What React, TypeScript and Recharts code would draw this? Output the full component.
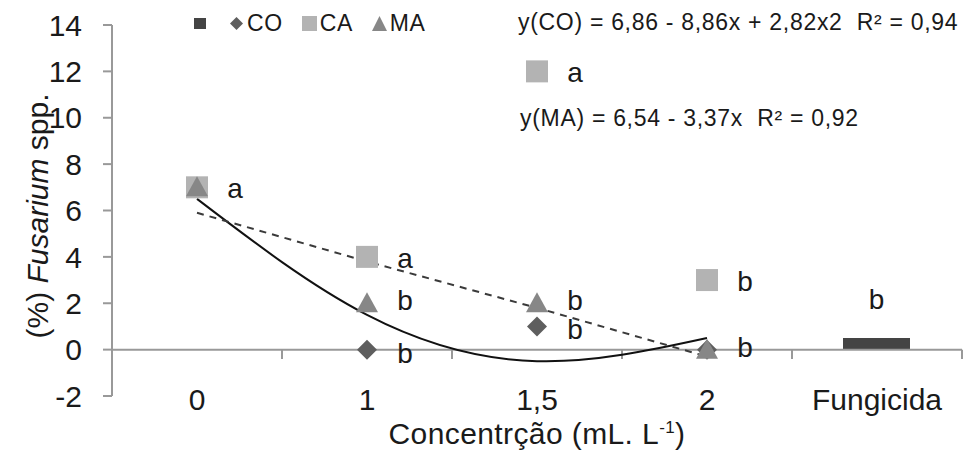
import React from "react";
import { ComposedChart, Line, Bar, XAxis, YAxis, ReferenceLine, LabelList } from "recharts";

const CATEGORIES = ["0", "1", "1,5", "2", "Fungicida"];
const CO = [7, 0, 1, 0, null];
const CA = [7, 4, 12, 3, null];
const MA = [7, 2, 2, 0, null];
const FUNGICIDA = [null, null, null, null, 0.5];
const CO_TREND = [6.5, 1.5, -0.5, 0.5, null];
const MA_TREND = [5.9, 3.8, 1.8, -0.3, null];
const CO_LETTERS = ["", "b", "b", "", ""];
const CA_LETTERS = ["a", "a", "a", "b", ""];
const MA_LETTERS = ["", "b", "b", "b", ""];
const FUNGICIDA_LETTERS = ["", "", "", "", "b"];
const Y_TICKS = [-2, 0, 2, 4, 6, 8, 10, 12, 14];
const CATEGORY_EDGES = [0.5, 1.5, 2.5, 3.5, 4.5];

const FONT = '"Liberation Sans", Arial, sans-serif';
const TEXT = "#1a1a1a";
const AXIS = "#999";
const C_CO = "#5e5e5e";
const C_CA = "#b3b3b3";
const C_MA = "#878787";
const C_FUNG = "#444";

const rows = CATEGORIES.map((name, i) => ({
  x: i,
  name,
  co: CO[i],
  ca: CA[i],
  ma: MA[i],
  fung: FUNGICIDA[i],
  coTrend: CO_TREND[i],
  maTrend: MA_TREND[i],
  coL: CO_LETTERS[i],
  caL: CA_LETTERS[i],
  maL: MA_LETTERS[i],
  fungL: FUNGICIDA_LETTERS[i],
}));

const markerPath = (kind: string, cx: number, cy: number) => {
  if (kind === "diamond") return `M${cx},${cy - 10} L${cx + 10},${cy} L${cx},${cy + 10} L${cx - 10},${cy} Z`;
  if (kind === "triangle") return `M${cx},${cy - 11} L${cx + 11},${cy + 9} L${cx - 11},${cy + 9} Z`;
  return `M${cx - 11},${cy - 11} h22 v22 h-22 Z`;
};

const makeDot = (kind: string, fill: string) => (props: any) => {
  const { cx, cy, index } = props;
  if (cx == null || cy == null || Number.isNaN(cy)) return <g key={`${kind}-${index}`} />;
  return <path key={`${kind}-${index}`} d={markerPath(kind, cx, cy)} fill={fill} />;
};

const makeLetter = (dy: number) => (props: any) => {
  const { x, y, value, index } = props;
  if (!value || y == null) return null;
  return (
    <text key={index} x={x + 38} y={y + dy} textAnchor="middle" fontFamily={FONT} fontSize={28} fill={TEXT}>
      {value}
    </text>
  );
};

const barLetter = (props: any) => {
  const { x, y, width, value, index } = props;
  if (!value) return null;
  return (
    <text key={index} x={x + width / 2} y={y - 29} textAnchor="middle" fontFamily={FONT} fontSize={28} fill={TEXT}>
      {value}
    </text>
  );
};

const XTick = (props: any) => {
  const { x, y, payload } = props;
  return (
    <text x={x} y={y + 6} textAnchor="middle" fontFamily={FONT} fontSize={30} fill={TEXT}>
      {CATEGORIES[payload.value]}
    </text>
  );
};

const LEGEND_ITEMS = [
  { kind: "bar", label: "", color: C_FUNG },
  { kind: "diamond", label: "CO", color: C_CO },
  { kind: "square", label: "CA", color: C_CA },
  { kind: "triangle", label: "MA", color: C_MA },
];

const LegendRow = () => (
  <div
    style={{
      position: "absolute",
      left: 193,
      top: 10,
      display: "flex",
      alignItems: "center",
      fontFamily: FONT,
      fontSize: 23,
      lineHeight: "26px",
      letterSpacing: 0.6,
      color: TEXT,
    }}
  >
    {LEGEND_ITEMS.map((item) => (
      <div key={item.kind} style={{ display: "flex", alignItems: "center", marginRight: item.label ? 19 : 18 }}>
        <svg width={15} height={15} style={{ marginRight: 3 }}>
          {item.kind === "bar" && <rect x={1} y={2} width={12} height={11} fill={item.color} />}
          {item.kind === "diamond" && <path d="M7.5,1 L14,7.5 L7.5,14 L1,7.5 Z" fill={item.color} />}
          {item.kind === "square" && <rect x={0} y={0} width={15} height={15} fill={item.color} />}
          {item.kind === "triangle" && <path d="M7.5,0 L15,15 L0,15 Z" fill={item.color} />}
        </svg>
        {item.label && <span>{item.label}</span>}
      </div>
    ))}
  </div>
);

export default function App() {
  return (
    <div style={{ position: "absolute", left: 0, top: 0, width: 966, height: 450, background: "#fff", overflow: "hidden" }}>
      <ComposedChart width={966} height={450} data={rows} margin={{ top: 25, right: 4, bottom: 0, left: 0 }}>
        <XAxis
          type="number"
          dataKey="x"
          domain={[-0.5, 4.5]}
          ticks={[0, 1, 2, 3, 4]}
          height={54}
          axisLine={false}
          tickLine={false}
          tick={<XTick />}
        />
        <YAxis
          type="number"
          domain={[-2, 14]}
          ticks={Y_TICKS}
          width={112}
          axisLine={{ stroke: AXIS, strokeWidth: 2 }}
          tickLine={{ stroke: AXIS, strokeWidth: 2 }}
          tickSize={9}
          tickMargin={21}
          tick={{ fontFamily: FONT, fontSize: 30, fill: TEXT }}
        />
        <ReferenceLine y={0} stroke={AXIS} strokeWidth={2} />
        {CATEGORY_EDGES.map((e) => (
          <ReferenceLine key={e} segment={[{ x: e, y: 0 }, { x: e, y: -0.4 }]} stroke={AXIS} strokeWidth={2} />
        ))}
        <Bar dataKey="fung" fill={C_FUNG} barSize={67} isAnimationActive={false}>
          <LabelList dataKey="fungL" content={barLetter} />
        </Bar>
        <Line dataKey="co" stroke="none" dot={makeDot("diamond", C_CO)} activeDot={false} isAnimationActive={false}>
          <LabelList dataKey="coL" content={makeLetter(13)} />
        </Line>
        <Line dataKey="ca" stroke="none" dot={makeDot("square", C_CA)} activeDot={false} isAnimationActive={false}>
          <LabelList dataKey="caL" content={makeLetter(11)} />
        </Line>
        <Line dataKey="ma" stroke="none" dot={makeDot("triangle", C_MA)} activeDot={false} isAnimationActive={false}>
          <LabelList dataKey="maL" content={makeLetter(7)} />
        </Line>
        <Line dataKey="coTrend" type="natural" stroke="#111" strokeWidth={2} dot={false} activeDot={false} isAnimationActive={false} />
        <Line
          dataKey="maTrend"
          type="linear"
          stroke="#3a3a3a"
          strokeWidth={2}
          strokeDasharray="7 6"
          dot={false}
          activeDot={false}
          isAnimationActive={false}
        />
      </ComposedChart>
      <LegendRow />
      <div
        style={{
          position: "absolute",
          left: 518,
          top: 9,
          fontFamily: FONT,
          fontSize: 23,
          lineHeight: "26px",
          letterSpacing: 0.7,
          color: TEXT,
          whiteSpace: "pre",
        }}
      >
        y(CO) = 6,86 - 8,86x + 2,82x2  R² = 0,94
      </div>
      <div
        style={{
          position: "absolute",
          left: 520,
          top: 105,
          fontFamily: FONT,
          fontSize: 23,
          lineHeight: "26px",
          letterSpacing: 0.7,
          color: TEXT,
          whiteSpace: "pre",
        }}
      >
        y(MA) = 6,54 - 3,37x  R² = 0,92
      </div>
      <div
        style={{
          position: "absolute",
          left: 38,
          top: 216,
          transform: "translate(-50%, -50%) rotate(-90deg)",
          fontFamily: FONT,
          fontSize: 30,
          lineHeight: "32px",
          color: TEXT,
          whiteSpace: "nowrap",
        }}
      >
        (%) <i>Fusarium</i> spp.
      </div>
      <div
        style={{
          position: "absolute",
          left: 537,
          top: 434,
          transform: "translate(-50%, -50%)",
          fontFamily: FONT,
          fontSize: 30,
          lineHeight: "30px",
          letterSpacing: 0.4,
          color: TEXT,
          whiteSpace: "nowrap",
        }}
      >
        Concentrção (mL. L<sup style={{ fontSize: 17, lineHeight: 0 }}>-1</sup>)
      </div>
    </div>
  );
}
